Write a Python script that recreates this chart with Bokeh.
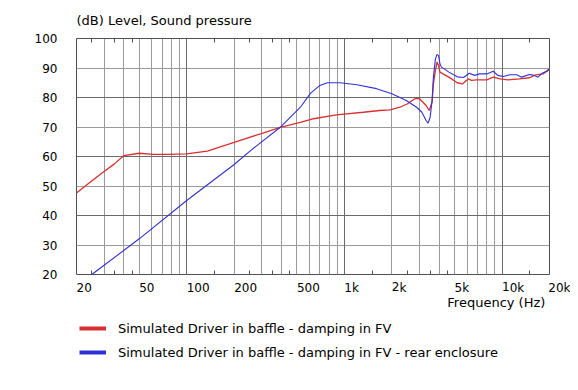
from bokeh.plotting import figure
from bokeh.layouts import column
from bokeh.models import (FixedTicker, Grid, LogAxis, Legend, LegendItem, Range1d)
from bokeh.embed import file_html
from bokeh.resources import INLINE

# ---------------- data ----------------
freq_red = [20, 23.6, 28.5, 34.8, 40, 50, 61, 75, 100, 135, 200, 294, 392, 526, 638, 890,
            1320, 1670, 1950, 2250, 2500, 2800, 3000, 3300, 3450, 3600, 3670, 3780, 3870,
            3960, 4040, 4220, 4600, 5200, 5600, 6100, 6400, 6900, 8000, 8800, 9700, 10900,
            12900, 14900, 16400, 18200, 20000]
spl_red = [47.6, 50.7, 54.1, 57.5, 60.3, 61.1, 60.7, 60.7, 60.9, 61.8, 64.8, 67.7, 69.9, 71.6,
           72.8, 74.1, 75.0, 75.6, 75.8, 76.7, 77.8, 79.6, 79.6, 77.3, 75.6, 78.4, 84.6, 89.2,
           92.0, 90.8, 88.6, 88.0, 86.9, 85.0, 84.6, 86.3, 85.8, 86.0, 86.0, 86.9, 86.3, 86.0,
           86.3, 86.7, 87.7, 88.0, 89.7]

freq_blue = [25, 50, 100, 200, 254, 392, 526, 611, 700, 780, 940, 1200, 1600, 2000, 2470,
             2870, 3100, 3300, 3400, 3500, 3600, 3670, 3780, 3870, 3960, 4040, 4130, 4300,
             4600, 5200, 5700, 6200, 6700, 7200, 8000, 8800, 9400, 10200, 11200, 12400,
             13300, 14900, 16000, 16900, 17900, 19300, 20000]
spl_blue = [20, 32.1, 45.1, 57.3, 62.0, 69.9, 76.7, 81.5, 84.1, 85.0, 85.0, 84.3, 83.0, 81.3,
            79.0, 76.7, 75.0, 72.2, 71.3, 73.3, 79.0, 86.9, 93.1, 94.6, 94.2, 91.4, 90.3, 89.7,
            88.6, 87.0, 86.8, 88.2, 87.5, 88.0, 88.0, 88.9, 87.5, 87.1, 87.7, 87.7, 86.9, 87.8,
            87.5, 86.9, 88.2, 88.9, 89.7]

series_names = ["Simulated Driver in baffle - damping in FV",
                "Simulated Driver in baffle - damping in FV - rear enclosure"]
series_colors = ["#d83030", "#3030d8"]

x_tick_values = [20, 50, 100, 200, 500, 1000, 2000, 5000, 10000, 20000]
x_tick_labels = ["20", "50", "100", "200", "500", "1k", "2k", "5k", "10k", "20k"]
x_half_ticks = [25, 35, 45, 150, 250, 350, 450, 1500, 2500, 3500, 4500, 15000]
x_minor_grid = [30, 40, 50, 60, 70, 80, 90, 200, 300, 400, 500, 600, 700, 800, 900,
                2000, 3000, 4000, 5000, 6000, 7000, 8000, 9000]
x_major_grid = [100, 1000, 10000]
y_ticks = [20, 30, 40, 50, 60, 70, 80, 90, 100]
y_minor_grid = [30, 50, 70, 90]
y_major_grid = [40, 60, 80]

title_text = "(dB)  Level, Sound pressure"
xlabel_text = "Frequency  (Hz)"

FONT = "DejaVu Sans"
TXT = "#000000"
FRAME = "#505050"

p = figure(width=570, height=320, x_axis_type="log",
           x_range=Range1d(20, 20000), y_range=Range1d(20, 100),
           output_backend="svg", toolbar_location=None,
           min_border_left=76, min_border_right=21, min_border_top=38, min_border_bottom=46,
           background_fill_color="white", border_fill_color="white")
p.outline_line_color = FRAME
p.outline_line_width = 1

p.title.text = title_text
p.title.align = "left"
p.title.vertical_align = "top"
p.title.text_font = FONT
p.title.text_font_size = "13px"
p.title.text_font_style = "normal"
p.title.text_color = TXT
p.title.standoff = 17
p.title.offset = 0

# bottom axis: labels left-aligned on their gridlines (tiny negative angle -> left align)
xa = p.xaxis[0]
xa.ticker = FixedTicker(ticks=x_tick_values, minor_ticks=x_half_ticks)
xa.major_label_overrides = {v: t for v, t in zip(x_tick_values, x_tick_labels)}
xa.major_label_orientation = -0.0001
xa.major_tick_in = 0
xa.major_tick_out = 0
xa.minor_tick_in = 4
xa.minor_tick_out = 0
xa.minor_tick_line_color = FRAME
xa.axis_line_color = None
xa.major_label_standoff = 13
xa.major_label_text_font = FONT
xa.major_label_text_font_size = "12px"
xa.major_label_text_color = TXT
xa.axis_label = xlabel_text
xa.axis_label_text_font = FONT
xa.axis_label_text_font_size = "13px"
xa.axis_label_text_font_style = "normal"
xa.axis_label_text_color = TXT
xa.axis_label_text_align = "right"
xa.axis_label_orientation = 0.0001
xa.axis_label_standoff = -2
if "axis_label_align" in xa.properties():
    xa.axis_label_align = "end"

top = LogAxis(ticker=FixedTicker(ticks=x_tick_values, minor_ticks=x_half_ticks),
              major_tick_in=0, major_tick_out=0, minor_tick_in=4, minor_tick_out=0,
              minor_tick_line_color=FRAME, axis_line_color=None,
              major_label_overrides={v: "" for v in x_tick_values},
              major_label_standoff=0)
p.add_layout(top, "above")

ya = p.yaxis[0]
ya.ticker = FixedTicker(ticks=y_ticks, minor_ticks=[])
ya.major_tick_in = 0
ya.major_tick_out = 0
ya.minor_tick_line_color = None
ya.axis_line_color = None
ya.major_label_standoff = 19
ya.major_label_text_font = FONT
ya.major_label_text_font_size = "12px"
ya.major_label_text_color = TXT

# grids
p.xgrid.ticker = FixedTicker(ticks=x_minor_grid)
p.xgrid.grid_line_color = "#9a9a9a"
p.ygrid.ticker = FixedTicker(ticks=y_minor_grid)
p.ygrid.grid_line_color = "#9a9a9a"
p.add_layout(Grid(dimension=0, ticker=FixedTicker(ticks=x_major_grid), grid_line_color="#6a6a6a"))
p.add_layout(Grid(dimension=1, ticker=FixedTicker(ticks=y_major_grid), grid_line_color="#6a6a6a"))

# curves
p.line(freq_red, spl_red, line_color=series_colors[0], line_width=1.3)
p.line(freq_blue, spl_blue, line_color=series_colors[1], line_width=1.1)

# legend strip below the chart
lg = figure(width=570, height=60, x_range=Range1d(0, 1), y_range=Range1d(0, 1),
            output_backend="svg", toolbar_location=None,
            x_axis_location=None, y_axis_location=None,
            min_border_left=76, min_border_right=21, min_border_top=0, min_border_bottom=0,
            background_fill_color="white", border_fill_color="white")
lg.outline_line_color = None
lg.xgrid.visible = False
lg.ygrid.visible = False
# swatch renderers: drawn outside the visible range, used only for the legend keys
leg_r = [lg.line([-2, -1], [-2, -1], line_color=c, line_width=4) for c in series_colors]
legend = Legend(items=[LegendItem(label=n, renderers=[r]) for n, r in zip(series_names, leg_r)],
                location=(3, 20), orientation="vertical", padding=0, margin=0, spacing=8,
                glyph_width=27, glyph_height=16, label_height=16, label_standoff=12,
                label_text_font=FONT, label_text_font_size="13px", label_text_color=TXT,
                border_line_color=None, background_fill_alpha=0)
lg.add_layout(legend)

layout = column(p, lg, spacing=0)
open("out.html", "w").write(file_html(layout, INLINE))
